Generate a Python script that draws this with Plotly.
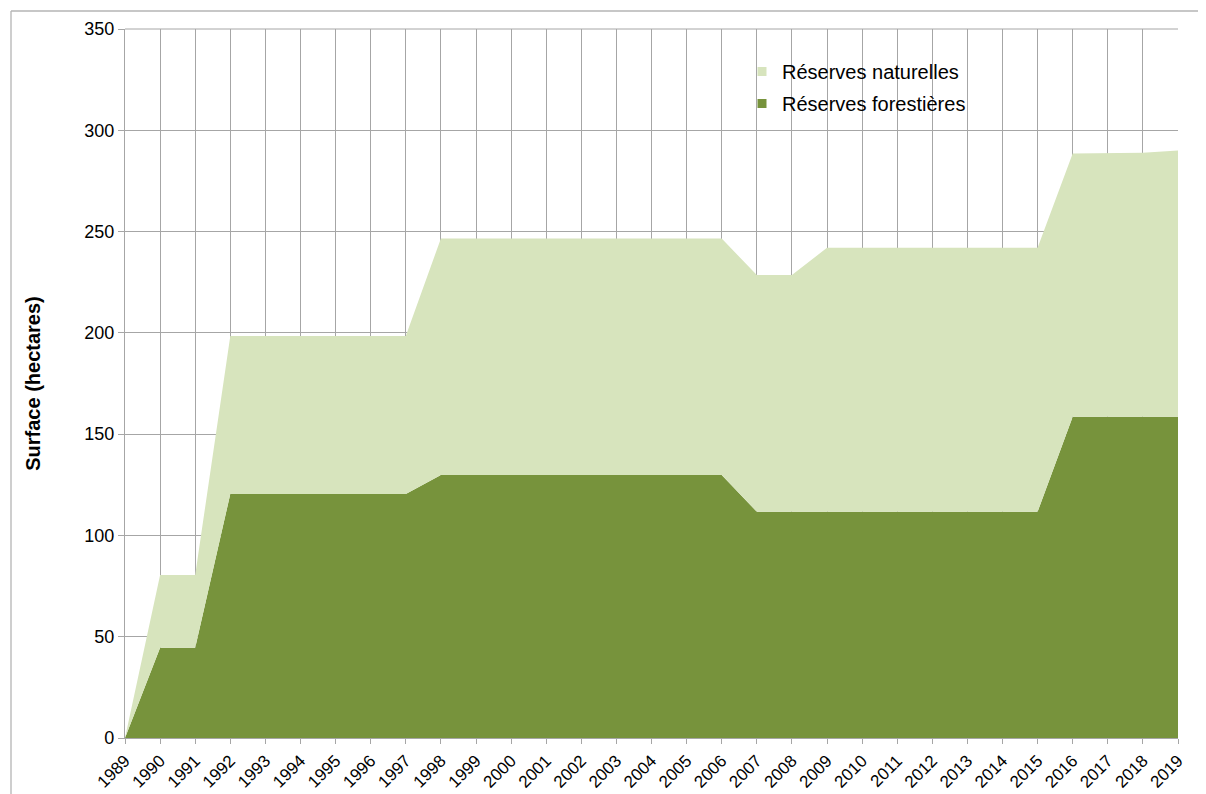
import plotly.graph_objects as go

years = list(range(1989, 2020))
forestieres = [0, 44.5, 44.5] + [120.5] * 6 + [129.8] * 9 + [111.7] * 9 + [158.6] * 4
total = ([0, 80.5, 80.5] + [198.5] * 6 + [246.6] * 9 + [228.5, 228.5] + [242.0] * 7
         + [288.6, 288.7, 288.9, 290.0])
naturelles = [round(t - f, 1) for t, f in zip(total, forestieres)]

series_names = ["Réserves forestières", "Réserves naturelles"]
colors = {"Réserves forestières": "#77933C", "Réserves naturelles": "#D7E4BD"}
y_title = "Surface (hectares)"

# page body has an 8px margin: figure sits at (8, 8) in the window
OFF = 8
PL, PR, PT, PB = 125, 1178, 29, 738  # plot area in window pixels
W, H = 1206 - OFF, 794 - OFF
L, T = PL - OFF, PT - OFF
R, B = W - (PR - OFF), H - (PB - OFF)

def px_x(s):
    return (s - PL) / (PR - PL)

def px_y(s):
    return (PB - s) / (PB - PT)

fig = go.Figure()
for name, vals in zip(series_names, [forestieres, naturelles]):
    fig.add_trace(go.Scatter(
        x=years, y=vals, name=name, mode="lines", stackgroup="one",
        line=dict(width=0, color=colors[name]), fillcolor=colors[name],
        showlegend=False, hoverinfo="x+y"))

# legend entries (square markers)
for i, name in enumerate(["Réserves naturelles", "Réserves forestières"]):
    fig.add_trace(go.Scatter(
        x=[None], y=[None], mode="markers", name=name,
        marker=dict(symbol="square", size=9, color=colors[name]),
        legendgroup=name, legendrank=i + 1))

grid = "#A6A6A6"
frame = "#B4B4B4"
fig.update_layout(
    width=W, height=H,
    margin=dict(l=L, r=R, t=T, b=B, autoexpand=False),
    paper_bgcolor="white", plot_bgcolor="white",
    font=dict(family="Liberation Sans, Arial, sans-serif", size=17, color="black"),
    legend=dict(x=px_x(742), y=px_y(52), xanchor="left", yanchor="top",
                bgcolor="rgba(0,0,0,0)", font=dict(size=20),
                traceorder="grouped", tracegroupgap=3, itemwidth=30),
    shapes=[
        dict(type="line", xref="paper", yref="paper",
             x0=px_x(11), x1=px_x(11), y0=px_y(11), y1=px_y(810),
             line=dict(color=frame, width=1.3)),
        dict(type="line", xref="paper", yref="paper",
             x0=px_x(11), x1=px_x(1220), y0=px_y(11), y1=px_y(11),
             line=dict(color=frame, width=1.3)),
        dict(type="line", xref="paper", yref="paper", x0=0, x1=1, y0=1, y1=1,
             line=dict(color=grid, width=1)),
    ],
)
fig.update_xaxes(
    range=[1989, 2019], tickmode="linear", tick0=1989, dtick=1,
    tickangle=-45, showgrid=True, gridcolor=grid, gridwidth=1,
    showline=True, linecolor=grid, linewidth=1.3,
    ticks="outside", ticklen=5, tickcolor=grid, zeroline=False,
    tickfont=dict(size=17), automargin=False)
fig.update_yaxes(
    range=[0, 350], tickmode="linear", tick0=0, dtick=50,
    showgrid=True, gridcolor=grid, gridwidth=1,
    showline=True, linecolor=grid, linewidth=1.3,
    ticks="outside", ticklen=6, tickcolor=grid, zeroline=False,
    title=dict(text="<b>" + y_title + "</b>", font=dict(size=20), standoff=38),
    tickfont=dict(size=18), automargin=False)

fig.write_html("out.html")
